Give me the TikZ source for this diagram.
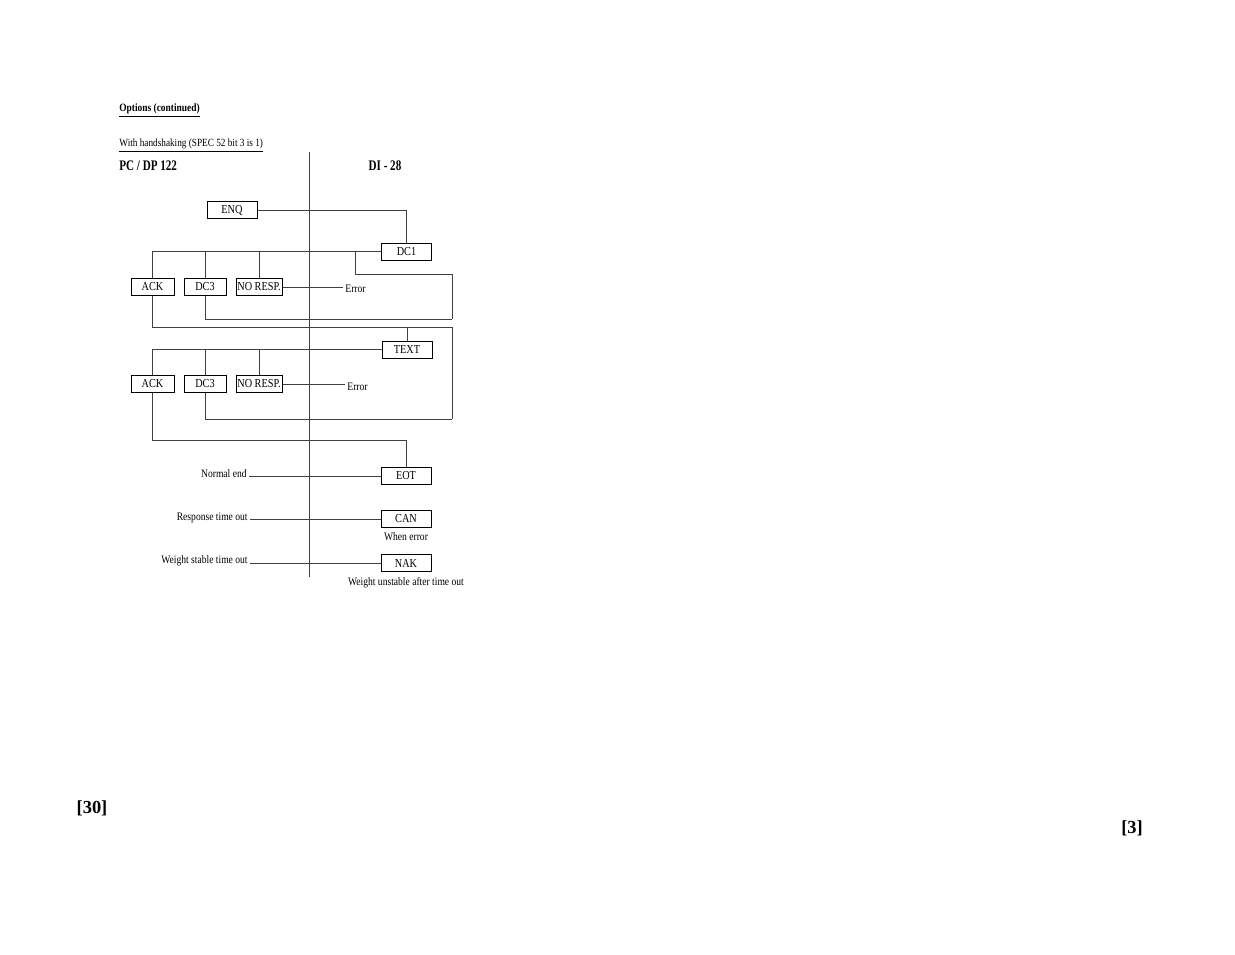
\documentclass[tikz,border=0pt]{standalone}
\usepackage{fontspec}
\setmainfont{Liberation Serif}[FakeStretch=0.84]
\newfontfamily\pagefont{Liberation Serif}
\newfontfamily\titlefont{Liberation Serif}[FakeStretch=0.76]
\usetikzlibrary{positioning}
\usetikzlibrary{arrows,calc}

\begin{document}
\begin{tikzpicture} [
       x=0.5pt, y=-0.5pt,
       code/.style={draw=black, line width=0.5pt, inner sep=0pt,
               minimum width=25pt, minimum height=8.5pt,
               font=\fontsize{6.1}{6}\selectfont},
       smallcode/.style={code, minimum width=21.5pt},
       texte/.style={inner sep=1pt, font=\fontsize{5.7}{6}\selectfont},
       titre/.style={inner sep=0pt, font=\fontsize{7.3}{8}\titlefont\bfseries},
       pagenum/.style={inner sep=0pt, anchor=base, font=\fontsize{9.2}{10}\pagefont\bfseries},
       line/.style={draw, line width=0.35pt, black!75},
       ]
       \useasboundingbox (0,0) rectangle (1235,954);
       \fill[white] (0,0) rectangle (1235,954);
       % headings
       \node (opt) [inner sep=0pt, anchor=base west, font=\fontsize{5.6}{6}\selectfont\bfseries]
            at (119,111) {\underline{Options (continued)}};
       \node (hand) [inner sep=0pt, anchor=base west, font=\fontsize{5.5}{6}\selectfont]
            at (119,146) {\underline{With handshaking (SPEC 52 bit 3 is 1)}};
       \node (pc) [titre, anchor=base west] at (119,170) {PC / DP 122};
       \node (di) [titre, anchor=base] at (385,170) {DI - 28};
       \coordinate (midtop) at (309,152);
       \coordinate (midbot) at (309,577);
       \path[line] (midtop) -- (midbot);
       % first exchange
       \node (enq) [code] at (232,210) {ENQ};
       \node (dc1) [code] at (406.5,251.5) {DC1};
       \node (ack1) [smallcode] at (152.5,287) {ACK};
       \node (dcthree1) [smallcode, minimum width=21pt] at (205,287) {DC3};
       \node (noresp1) [smallcode, minimum width=23pt] at (259,287) {NO RESP.};
       \node (err1) [texte, anchor=west] at (343,289) {Error};
       % second exchange
       \node (text) [code] at (407,349.5) {TEXT};
       \node (ack2) [smallcode] at (152.5,384) {ACK};
       \node (dcthree2) [smallcode, minimum width=21pt] at (205,384) {DC3};
       \node (noresp2) [smallcode, minimum width=23pt] at (259,384) {NO RESP.};
       \node (err2) [texte, anchor=west] at (345,387) {Error};
       % end of transfer
       \node (eot) [code] at (406,476) {EOT};
       \node (can) [code] at (406,519) {CAN};
       \node (nak) [code] at (406,563) {NAK};
       \node (normal) [texte, anchor=east] at (249,474) {Normal end};
       \node (resp) [texte, anchor=east] at (250,518) {Response time out};
       \node (stable) [texte, anchor=east] at (250,561) {Weight stable time out};
       \node (whenerr) [texte, below=1pt of can] {When error};
       \node (unstable) [texte, below=1.5pt of nak] {Weight unstable after time out};
       % page numbers
       \node (pgl) [pagenum] at (92,813) {[30]};
       \node (pgr) [pagenum] at (1132,833) {[3]};
       % corners of the return lines
       \coordinate (back1) at (355,251.5);
       \coordinate (loop1) at (452,274);
       \coordinate (loop1b) at (452,319);
       \coordinate (loop2) at (452,327);
       \coordinate (loop2b) at (452,419);
       \coordinate (textin) at (407,327);
       \coordinate (eotin) at (406,440);
        \begin{scope}[every path/.style=line]
        \path (enq.east) -| (dc1.north);
        \path (dc1.west) -| (ack1.north);
        \path (dcthree1.north) -- (dcthree1.north |- dc1.west);
        \path (noresp1.north) -- (noresp1.north |- dc1.west);
        \path (noresp1.east) -- (err1.west |- noresp1.east);
        \path (back1) |- (loop1) -- (loop1b);
        \path (dcthree1.south) |- (loop1b);
        \path (ack1.south) |- (loop2) -- (loop2b);
        \path (textin) -- (text.north);
        \path (text.west) -| (ack2.north);
        \path (dcthree2.north) -- (dcthree2.north |- text.west);
        \path (noresp2.north) -- (noresp2.north |- text.west);
        \path (noresp2.east) -- (err2.west |- noresp2.east);
        \path (dcthree2.south) |- (loop2b);
        \path (ack2.south) |- (eotin) -- (eot.north);
        \path (normal.east |- eot.west) -- (eot.west);
        \path (resp.east |- can.west) -- (can.west);
        \path (stable.east |- nak.west) -- (nak.west);
\end{scope}
\end{tikzpicture}
\end{document}
